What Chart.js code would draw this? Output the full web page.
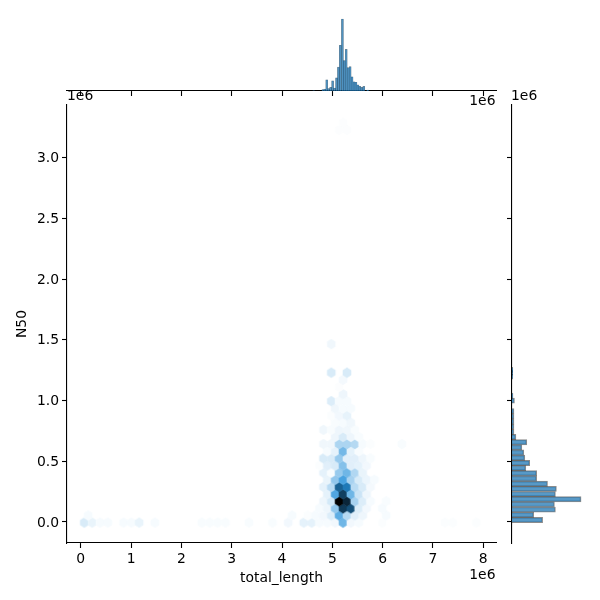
<!DOCTYPE html>
<html>
<head>
<meta charset="utf-8">
<script src="https://cdn.jsdelivr.net/npm/chart.js@4"></script>
<style>
  html, body { margin: 0; background: #fff; }
  #plot { position: relative; width: 600px; height: 600px; background: #fff; }
  #plot canvas { position: absolute; left: 0; top: 0; }
</style>
</head>
<body>
<div id="plot">
  <canvas id="top-hist" width="600" height="600"></canvas>
  <canvas id="side-hist" width="600" height="600"></canvas>
  <canvas id="joint" width="600" height="600"></canvas>
</div>
<script>
// all positions in units of 1e6, like the axes
const xTicks = [0, 1, 2, 3, 4, 5, 6, 7, 8];
const yTicks = [0, 0.5, 1, 1.5, 2, 2.5, 3];

// hex bins, one line per row of the grid
const hexX = [
  0.07, 0.226, 0.383, 0.538, 0.85, 1.006, 1.16, 1.473, 2.408, 2.564, 2.72, 2.876, 3.343, 3.81, 4.122, 4.433, 4.589, 4.745, 4.901, 5.057, 5.213, 5.369, 5.525, 5.993, 7.24, 7.396, 7.863,
  0.147, 4.2, 4.512, 4.667, 4.824, 4.979, 5.135, 5.291, 5.447, 5.603, 6.07,
  4.745, 4.901, 5.057, 5.213, 5.369, 5.525, 5.681, 5.993,
  4.824, 4.979, 5.135, 5.291, 5.447, 5.603, 5.759, 6.07,
  4.901, 5.057, 5.213, 5.369, 5.525, 5.681,
  4.824, 4.979, 5.135, 5.291, 5.447, 5.603, 5.759,
  4.901, 5.057, 5.213, 5.369, 5.525, 5.681, 5.837,
  4.824, 4.979, 5.135, 5.291, 5.447, 5.603,
  4.745, 4.901, 5.057, 5.213, 5.369, 5.525, 5.681,
  4.824, 4.979, 5.135, 5.291, 5.447, 5.603, 5.759,
  4.901, 5.057, 5.213, 5.369, 5.525,
  4.824, 4.979, 5.135, 5.291, 5.447, 5.603, 5.759, 6.383,
  5.057, 5.213, 5.369, 5.525,
  4.824, 4.979, 5.135, 5.291, 5.447,
  5.057, 5.213, 5.369,
  4.979, 5.135, 5.291,
  5.057, 5.213, 5.369,
  4.979, 5.135, 5.291,
  5.213,
  5.135,
  5.213,
  4.979, 5.291,
  4.979,
  5.135, 5.291,
  5.213,
];
const hexY = [
  -0.005, -0.005, -0.005, -0.005, -0.005, -0.005, -0.005, -0.005, -0.005, -0.005, -0.005, -0.005, -0.005, -0.005, -0.005, -0.005, -0.005, -0.005, -0.005, -0.005, -0.005, -0.005, -0.005, -0.005, -0.005, -0.005, -0.005,
  0.054, 0.054, 0.054, 0.054, 0.054, 0.054, 0.054, 0.054, 0.054, 0.054, 0.054,
  0.113, 0.113, 0.113, 0.113, 0.113, 0.113, 0.113, 0.113,
  0.171, 0.171, 0.171, 0.171, 0.171, 0.171, 0.171, 0.171,
  0.23, 0.23, 0.23, 0.23, 0.23, 0.23,
  0.289, 0.289, 0.289, 0.289, 0.289, 0.289, 0.289,
  0.348, 0.348, 0.348, 0.348, 0.348, 0.348, 0.348,
  0.407, 0.407, 0.407, 0.407, 0.407, 0.407,
  0.465, 0.465, 0.465, 0.465, 0.465, 0.465, 0.465,
  0.524, 0.524, 0.524, 0.524, 0.524, 0.524, 0.524,
  0.583, 0.583, 0.583, 0.583, 0.583,
  0.642, 0.642, 0.642, 0.642, 0.642, 0.642, 0.642, 0.642,
  0.701, 0.701, 0.701, 0.701,
  0.759, 0.759, 0.759, 0.759, 0.759,
  0.818, 0.818, 0.818,
  0.877, 0.877, 0.877,
  0.936, 0.936, 0.936,
  0.995, 0.995, 0.995,
  1.053,
  1.112,
  1.171,
  1.23, 1.23,
  1.465,
  3.229, 3.229,
  3.288,
];
const hexCount = [
  9, 5, 2, 2, 2, 2, 5, 2, 1.5, 1.5, 1.5, 1.5, 1.5, 1.5, 3, 6, 6, 2, 2, 3, 33, 3, 2, 1, 1, 1, 1,
  2, 2, 1, 2, 3, 8, 37, 17, 7, 4, 2,
  2, 4, 25, 80, 72, 8, 3, 2,
  4, 10, 100, 87, 20, 8, 2, 1.5,
  6, 40, 78, 33, 12, 4,
  6, 16, 66, 58, 16, 9, 2.5,
  5, 25, 42, 20, 9, 4.5, 2,
  6, 1.5, 24, 33, 18, 5,
  1, 7, 9, 28, 7, 6, 3,
  9, 9, 24, 7, 7, 4, 1.5,
  2, 6, 32, 6, 1.5,
  3.5, 3.5, 19, 19, 17, 2, 1, 1.5,
  4, 9, 4, 1.5,
  3.5, 1.5, 4, 3.5, 1.5,
  1.5, 2, 3.5,
  1, 3, 5.5,
  3.5, 2, 2,
  8, 2, 2,
  4,
  0.8,
  2.5,
  9, 9,
  3.5,
  0.8, 0.8,
  0.8,
];

// marginal histogram over total_length
const topBins = [4.63, 4.812, 4.851, 4.889, 4.928, 4.967, 5.006, 5.045, 5.084, 5.122, 5.16, 5.201, 5.238, 5.277, 5.316, 5.355, 5.393, 5.432, 5.471, 5.51, 5.548, 5.587, 5.626, 5.703];
const topCounts = [0.4, 1.5, 2, 11, 2.5, 3.5, 10, 3, 13, 23.5, 45, 71, 30, 41, 23, 24, 14, 9, 8.5, 6, 4.5, 3.5, 4.5, 1];

// marginal histogram over N50
const sideBins = [0.0165, 0.059, 0.102, 0.145, 0.187, 0.23, 0.273, 0.315, 0.358, 0.401, 0.444, 0.486, 0.529, 0.572, 0.614, 0.657, 0.7, 0.742, 0.785, 0.828, 0.87, 0.913, 0.999, 1.04, 1.198, 1.231, 1.253];
const sideCounts = [31, 22, 44, 43, 70, 44, 45, 36, 25, 25, 14, 18, 13, 12, 10, 15, 4, 2, 2, 2, 2, 2, 2.5, 1, 0.8, 0.8, 0.8];

const textFont = "DejaVu Sans";
const textSize = 13.9;
const barFill = "rgba(31, 119, 180, 0.75)";
const barEdge = "rgba(0, 0, 0, 0.45)";

function hexColor(count) {
  // white to black through the blue of the histograms
  return `hsl(204.6, 70.6%, ${100 - count}%)`;
}

const hexCache = {};
function hexStyle(count) {
  if (hexCache[count]) {
    return hexCache[count];
  }
  const canvas = document.createElement("canvas");
  canvas.width = 12;
  canvas.height = 14;
  const c = canvas.getContext("2d");
  const halfW = 4.3;
  const halfH = 5.2;
  c.translate(6, 7);
  c.beginPath();
  c.moveTo(0, -halfH);
  c.lineTo(halfW, -halfH / 2);
  c.lineTo(halfW, halfH / 2);
  c.lineTo(0, halfH);
  c.lineTo(-halfW, halfH / 2);
  c.lineTo(-halfW, -halfH / 2);
  c.closePath();
  c.fillStyle = hexColor(count);
  c.fill();
  hexCache[count] = canvas;
  return canvas;
}

function fixedWidth(width) {
  return (scale) => {
    scale.width = width;
  };
}

function fixedHeight(height) {
  return (scale) => {
    scale.height = height;
  };
}

function useTicks(values) {
  return (scale) => {
    scale.ticks = values.map((value) => ({ value }));
  };
}

const axisGrid = {
  drawOnChartArea: false,
  drawTicks: true,
  tickLength: 5,
  tickColor: "#000",
  tickWidth: 1.1,
};
const axisBorder = { display: true, color: "#000", width: 1.1 };

const offsetLabels = {
  id: "offsetLabels",
  afterDraw(chart) {
    const c = chart.ctx;
    c.save();
    c.fillStyle = "#000";
    c.font = `${textSize}px "${textFont}"`;
    c.textBaseline = "middle";
    c.textAlign = "left";
    c.fillText("1e6", 67, 96);
    c.fillText("1e6", 511, 96);
    c.textAlign = "right";
    c.fillText("1e6", 495.5, 101);
    c.fillText("1e6", 495.5, 575);
    c.restore();
  },
};

function createJointChart() {
  const points = hexX.map((x, i) => ({ x, y: hexY[i] }));
  return new Chart(document.getElementById("joint"), {
    type: "scatter",
    data: {
      datasets: [
        {
          data: points,
          pointRadius: 5,
          pointHoverRadius: 5,
          pointStyle: (ctx) => hexStyle(hexCount[ctx.dataIndex]),
        },
      ],
    },
    options: {
      responsive: false,
      animation: false,
      layout: { padding: { left: 14, top: 105, right: 104, bottom: 13 } },
      plugins: { legend: { display: false }, tooltip: { enabled: false } },
      scales: {
        x: {
          type: "linear",
          min: -0.274,
          max: 8.254,
          afterBuildTicks: useTicks(xTicks),
          afterFit: fixedHeight(44),
          grid: axisGrid,
          border: axisBorder,
          ticks: {
            color: "#000",
            padding: 3,
            maxRotation: 0,
            font: { family: textFont, size: textSize },
            callback: (v) => String(v),
          },
          title: {
            display: true,
            text: "total_length",
            color: "#000",
            padding: 0,
            font: { family: textFont, size: textSize },
          },
        },
        y: {
          type: "linear",
          min: -0.173,
          max: 3.434,
          afterBuildTicks: useTicks(yTicks),
          afterFit: fixedWidth(53),
          grid: axisGrid,
          border: axisBorder,
          ticks: {
            color: "#000",
            padding: 3,
            labelOffset: 1,
            font: { family: textFont, size: textSize },
            callback: (v) => v.toFixed(1),
          },
          title: {
            display: true,
            text: "N50",
            color: "#000",
            padding: 0,
            font: { family: textFont, size: textSize },
          },
        },
      },
    },
    plugins: [offsetLabels],
  });
}

function createTopHist() {
  return new Chart(document.getElementById("top-hist"), {
    type: "bar",
    data: {
      datasets: [
        {
          data: topBins.map((x, i) => ({ x, y: topCounts[i] })),
          backgroundColor: barFill,
          borderColor: barEdge,
          borderWidth: 0.3,
          barThickness: 2,
        },
      ],
    },
    options: {
      responsive: false,
      animation: false,
      layout: { padding: { left: 67, top: 15, right: 104, bottom: 504 } },
      plugins: { legend: { display: false }, tooltip: { enabled: false } },
      scales: {
        x: {
          type: "linear",
          offset: false,
          min: -0.274,
          max: 8.254,
          afterBuildTicks: useTicks(xTicks),
          afterFit: fixedHeight(5),
          grid: { ...axisGrid, offset: false },
          border: axisBorder,
          ticks: { display: false },
        },
        y: { display: false, min: 0, max: 75 },
      },
    },
  });
}

function createSideHist() {
  return new Chart(document.getElementById("side-hist"), {
    type: "bar",
    data: {
      datasets: [
        {
          data: sideBins.map((y, i) => ({ x: sideCounts[i], y })),
          backgroundColor: barFill,
          borderColor: barEdge,
          borderWidth: 1,
          barThickness: 5.2,
        },
      ],
    },
    options: {
      indexAxis: "y",
      responsive: false,
      animation: false,
      layout: { padding: { left: 507, top: 105, right: 14, bottom: 57 } },
      plugins: { legend: { display: false }, tooltip: { enabled: false } },
      scales: {
        x: { display: false, min: 0, max: 75 },
        y: {
          type: "linear",
          offset: false,
          min: -0.173,
          max: 3.434,
          afterBuildTicks: useTicks(yTicks),
          afterFit: fixedWidth(5),
          grid: { ...axisGrid, offset: false },
          border: axisBorder,
          ticks: { display: false },
        },
      },
    },
  });
}

function init() {
  createTopHist();
  createSideHist();
  createJointChart();
}

init();
</script>
</body>
</html>
